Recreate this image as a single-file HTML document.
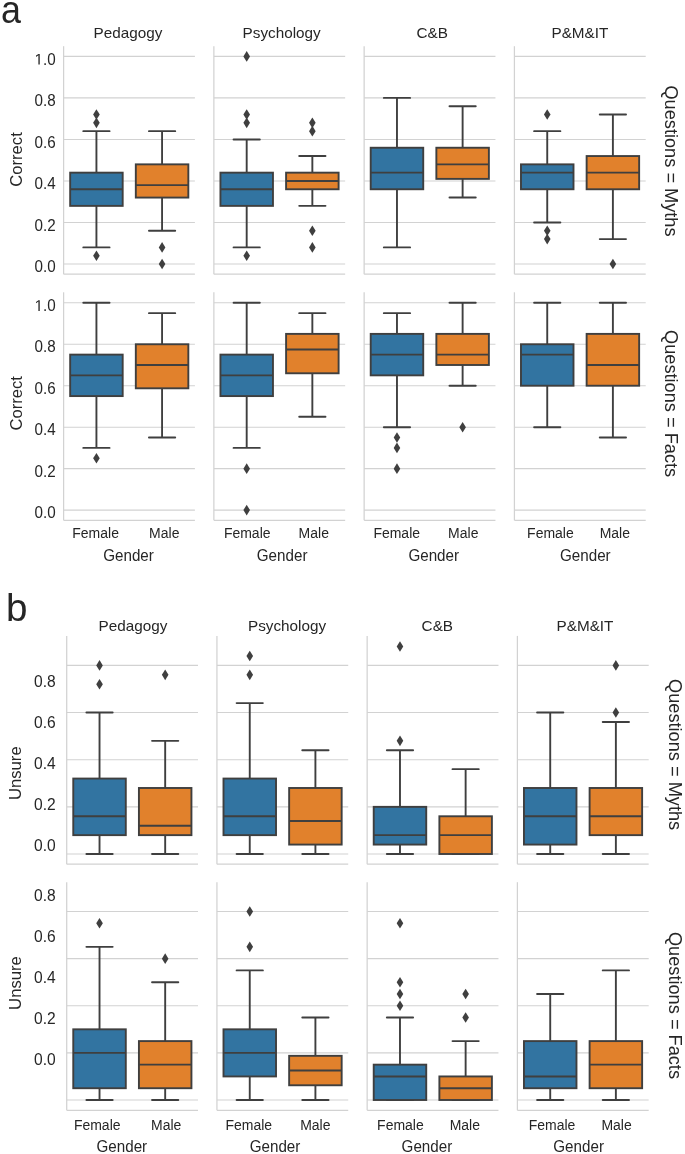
<!DOCTYPE html>
<html><head><meta charset="utf-8"><title>Boxplots</title>
<style>
html,body{margin:0;padding:0;background:#fff;}
body{width:685px;height:1154px;overflow:hidden;}
svg{display:block;will-change:transform;}
text{font-family:"Liberation Sans", sans-serif;fill:#262626;}
</style></head>
<body>
<svg width="685" height="1154" viewBox="0 0 685 1154">
<rect width="685" height="1154" fill="#fff"/>
<line x1="63.60" x2="194.90" y1="264.00" y2="264.00" stroke="#d2d2d2" stroke-width="1.1"/>
<line x1="63.60" x2="194.90" y1="222.48" y2="222.48" stroke="#d2d2d2" stroke-width="1.1"/>
<line x1="63.60" x2="194.90" y1="180.96" y2="180.96" stroke="#d2d2d2" stroke-width="1.1"/>
<line x1="63.60" x2="194.90" y1="139.44" y2="139.44" stroke="#d2d2d2" stroke-width="1.1"/>
<line x1="63.60" x2="194.90" y1="97.92" y2="97.92" stroke="#d2d2d2" stroke-width="1.1"/>
<line x1="63.60" x2="194.90" y1="56.40" y2="56.40" stroke="#d2d2d2" stroke-width="1.1"/>
<line x1="63.60" x2="63.60" y1="46.20" y2="274.20" stroke="#d2d2d2" stroke-width="1.25"/>
<line x1="63.60" x2="194.90" y1="274.20" y2="274.20" stroke="#d2d2d2" stroke-width="1.25"/>
<line x1="96.43" x2="96.43" y1="205.87" y2="247.39" stroke="#3f3f3f" stroke-width="1.9"/>
<line x1="96.43" x2="96.43" y1="172.66" y2="131.14" stroke="#3f3f3f" stroke-width="1.9"/>
<line x1="83.30" x2="109.56" y1="247.39" y2="247.39" stroke="#3f3f3f" stroke-width="1.9" stroke-linecap="round"/>
<line x1="83.30" x2="109.56" y1="131.14" y2="131.14" stroke="#3f3f3f" stroke-width="1.9" stroke-linecap="round"/>
<rect x="70.17" y="172.66" width="52.52" height="33.22" fill="#3274a1" stroke="#3f3f3f" stroke-width="1.9"/>
<line x1="70.17" x2="122.69" y1="189.26" y2="189.26" stroke="#3f3f3f" stroke-width="1.9"/>
<path d="M96.43 250.40L99.73 255.70L96.43 261.00L93.13 255.70Z" fill="#3f3f3f"/>
<path d="M96.43 117.53L99.73 122.83L96.43 128.13L93.13 122.83Z" fill="#3f3f3f"/>
<path d="M96.43 109.23L99.73 114.53L96.43 119.83L93.13 114.53Z" fill="#3f3f3f"/>
<line x1="162.08" x2="162.08" y1="197.57" y2="230.78" stroke="#3f3f3f" stroke-width="1.9"/>
<line x1="162.08" x2="162.08" y1="164.35" y2="131.14" stroke="#3f3f3f" stroke-width="1.9"/>
<line x1="148.95" x2="175.21" y1="230.78" y2="230.78" stroke="#3f3f3f" stroke-width="1.9" stroke-linecap="round"/>
<line x1="148.95" x2="175.21" y1="131.14" y2="131.14" stroke="#3f3f3f" stroke-width="1.9" stroke-linecap="round"/>
<rect x="135.81" y="164.35" width="52.52" height="33.22" fill="#e1812c" stroke="#3f3f3f" stroke-width="1.9"/>
<line x1="135.81" x2="188.34" y1="185.11" y2="185.11" stroke="#3f3f3f" stroke-width="1.9"/>
<path d="M162.08 242.09L165.38 247.39L162.08 252.69L158.78 247.39Z" fill="#3f3f3f"/>
<path d="M162.08 258.70L165.38 264.00L162.08 269.30L158.78 264.00Z" fill="#3f3f3f"/>
<line x1="213.87" x2="345.17" y1="264.00" y2="264.00" stroke="#d2d2d2" stroke-width="1.1"/>
<line x1="213.87" x2="345.17" y1="222.48" y2="222.48" stroke="#d2d2d2" stroke-width="1.1"/>
<line x1="213.87" x2="345.17" y1="180.96" y2="180.96" stroke="#d2d2d2" stroke-width="1.1"/>
<line x1="213.87" x2="345.17" y1="139.44" y2="139.44" stroke="#d2d2d2" stroke-width="1.1"/>
<line x1="213.87" x2="345.17" y1="97.92" y2="97.92" stroke="#d2d2d2" stroke-width="1.1"/>
<line x1="213.87" x2="345.17" y1="56.40" y2="56.40" stroke="#d2d2d2" stroke-width="1.1"/>
<line x1="213.87" x2="213.87" y1="46.20" y2="274.20" stroke="#d2d2d2" stroke-width="1.25"/>
<line x1="213.87" x2="345.17" y1="274.20" y2="274.20" stroke="#d2d2d2" stroke-width="1.25"/>
<line x1="246.69" x2="246.69" y1="205.87" y2="247.39" stroke="#3f3f3f" stroke-width="1.9"/>
<line x1="246.69" x2="246.69" y1="172.66" y2="139.44" stroke="#3f3f3f" stroke-width="1.9"/>
<line x1="233.56" x2="259.82" y1="247.39" y2="247.39" stroke="#3f3f3f" stroke-width="1.9" stroke-linecap="round"/>
<line x1="233.56" x2="259.82" y1="139.44" y2="139.44" stroke="#3f3f3f" stroke-width="1.9" stroke-linecap="round"/>
<rect x="220.44" y="172.66" width="52.52" height="33.22" fill="#3274a1" stroke="#3f3f3f" stroke-width="1.9"/>
<line x1="220.44" x2="272.95" y1="189.26" y2="189.26" stroke="#3f3f3f" stroke-width="1.9"/>
<path d="M246.69 51.10L250.00 56.40L246.69 61.70L243.39 56.40Z" fill="#3f3f3f"/>
<path d="M246.69 109.23L250.00 114.53L246.69 119.83L243.39 114.53Z" fill="#3f3f3f"/>
<path d="M246.69 117.53L250.00 122.83L246.69 128.13L243.39 122.83Z" fill="#3f3f3f"/>
<path d="M246.69 250.40L250.00 255.70L246.69 261.00L243.39 255.70Z" fill="#3f3f3f"/>
<line x1="312.35" x2="312.35" y1="189.26" y2="205.87" stroke="#3f3f3f" stroke-width="1.9"/>
<line x1="312.35" x2="312.35" y1="172.66" y2="156.05" stroke="#3f3f3f" stroke-width="1.9"/>
<line x1="299.22" x2="325.48" y1="205.87" y2="205.87" stroke="#3f3f3f" stroke-width="1.9" stroke-linecap="round"/>
<line x1="299.22" x2="325.48" y1="156.05" y2="156.05" stroke="#3f3f3f" stroke-width="1.9" stroke-linecap="round"/>
<rect x="286.09" y="172.66" width="52.52" height="16.61" fill="#e1812c" stroke="#3f3f3f" stroke-width="1.9"/>
<line x1="286.09" x2="338.61" y1="180.96" y2="180.96" stroke="#3f3f3f" stroke-width="1.9"/>
<path d="M312.35 117.53L315.65 122.83L312.35 128.13L309.05 122.83Z" fill="#3f3f3f"/>
<path d="M312.35 125.84L315.65 131.14L312.35 136.44L309.05 131.14Z" fill="#3f3f3f"/>
<path d="M312.35 225.48L315.65 230.78L312.35 236.08L309.05 230.78Z" fill="#3f3f3f"/>
<path d="M312.35 242.09L315.65 247.39L312.35 252.69L309.05 247.39Z" fill="#3f3f3f"/>
<line x1="364.14" x2="495.44" y1="264.00" y2="264.00" stroke="#d2d2d2" stroke-width="1.1"/>
<line x1="364.14" x2="495.44" y1="222.48" y2="222.48" stroke="#d2d2d2" stroke-width="1.1"/>
<line x1="364.14" x2="495.44" y1="180.96" y2="180.96" stroke="#d2d2d2" stroke-width="1.1"/>
<line x1="364.14" x2="495.44" y1="139.44" y2="139.44" stroke="#d2d2d2" stroke-width="1.1"/>
<line x1="364.14" x2="495.44" y1="97.92" y2="97.92" stroke="#d2d2d2" stroke-width="1.1"/>
<line x1="364.14" x2="495.44" y1="56.40" y2="56.40" stroke="#d2d2d2" stroke-width="1.1"/>
<line x1="364.14" x2="364.14" y1="46.20" y2="274.20" stroke="#d2d2d2" stroke-width="1.25"/>
<line x1="364.14" x2="495.44" y1="274.20" y2="274.20" stroke="#d2d2d2" stroke-width="1.25"/>
<line x1="396.97" x2="396.97" y1="189.26" y2="247.39" stroke="#3f3f3f" stroke-width="1.9"/>
<line x1="396.97" x2="396.97" y1="147.74" y2="97.92" stroke="#3f3f3f" stroke-width="1.9"/>
<line x1="383.84" x2="410.10" y1="247.39" y2="247.39" stroke="#3f3f3f" stroke-width="1.9" stroke-linecap="round"/>
<line x1="383.84" x2="410.10" y1="97.92" y2="97.92" stroke="#3f3f3f" stroke-width="1.9" stroke-linecap="round"/>
<rect x="370.71" y="147.74" width="52.52" height="41.52" fill="#3274a1" stroke="#3f3f3f" stroke-width="1.9"/>
<line x1="370.71" x2="423.23" y1="172.66" y2="172.66" stroke="#3f3f3f" stroke-width="1.9"/>
<line x1="462.62" x2="462.62" y1="178.88" y2="197.57" stroke="#3f3f3f" stroke-width="1.9"/>
<line x1="462.62" x2="462.62" y1="147.74" y2="106.22" stroke="#3f3f3f" stroke-width="1.9"/>
<line x1="449.49" x2="475.75" y1="197.57" y2="197.57" stroke="#3f3f3f" stroke-width="1.9" stroke-linecap="round"/>
<line x1="449.49" x2="475.75" y1="106.22" y2="106.22" stroke="#3f3f3f" stroke-width="1.9" stroke-linecap="round"/>
<rect x="436.36" y="147.74" width="52.52" height="31.14" fill="#e1812c" stroke="#3f3f3f" stroke-width="1.9"/>
<line x1="436.36" x2="488.88" y1="164.35" y2="164.35" stroke="#3f3f3f" stroke-width="1.9"/>
<line x1="514.41" x2="645.71" y1="264.00" y2="264.00" stroke="#d2d2d2" stroke-width="1.1"/>
<line x1="514.41" x2="645.71" y1="222.48" y2="222.48" stroke="#d2d2d2" stroke-width="1.1"/>
<line x1="514.41" x2="645.71" y1="180.96" y2="180.96" stroke="#d2d2d2" stroke-width="1.1"/>
<line x1="514.41" x2="645.71" y1="139.44" y2="139.44" stroke="#d2d2d2" stroke-width="1.1"/>
<line x1="514.41" x2="645.71" y1="97.92" y2="97.92" stroke="#d2d2d2" stroke-width="1.1"/>
<line x1="514.41" x2="645.71" y1="56.40" y2="56.40" stroke="#d2d2d2" stroke-width="1.1"/>
<line x1="514.41" x2="514.41" y1="46.20" y2="274.20" stroke="#d2d2d2" stroke-width="1.25"/>
<line x1="514.41" x2="645.71" y1="274.20" y2="274.20" stroke="#d2d2d2" stroke-width="1.25"/>
<line x1="547.24" x2="547.24" y1="189.26" y2="222.48" stroke="#3f3f3f" stroke-width="1.9"/>
<line x1="547.24" x2="547.24" y1="164.35" y2="131.14" stroke="#3f3f3f" stroke-width="1.9"/>
<line x1="534.11" x2="560.37" y1="222.48" y2="222.48" stroke="#3f3f3f" stroke-width="1.9" stroke-linecap="round"/>
<line x1="534.11" x2="560.37" y1="131.14" y2="131.14" stroke="#3f3f3f" stroke-width="1.9" stroke-linecap="round"/>
<rect x="520.98" y="164.35" width="52.52" height="24.91" fill="#3274a1" stroke="#3f3f3f" stroke-width="1.9"/>
<line x1="520.98" x2="573.50" y1="172.66" y2="172.66" stroke="#3f3f3f" stroke-width="1.9"/>
<path d="M547.24 109.23L550.54 114.53L547.24 119.83L543.94 114.53Z" fill="#3f3f3f"/>
<path d="M547.24 225.48L550.54 230.78L547.24 236.08L543.94 230.78Z" fill="#3f3f3f"/>
<path d="M547.24 233.79L550.54 239.09L547.24 244.39L543.94 239.09Z" fill="#3f3f3f"/>
<line x1="612.89" x2="612.89" y1="189.26" y2="239.09" stroke="#3f3f3f" stroke-width="1.9"/>
<line x1="612.89" x2="612.89" y1="156.05" y2="114.53" stroke="#3f3f3f" stroke-width="1.9"/>
<line x1="599.76" x2="626.02" y1="239.09" y2="239.09" stroke="#3f3f3f" stroke-width="1.9" stroke-linecap="round"/>
<line x1="599.76" x2="626.02" y1="114.53" y2="114.53" stroke="#3f3f3f" stroke-width="1.9" stroke-linecap="round"/>
<rect x="586.63" y="156.05" width="52.52" height="33.22" fill="#e1812c" stroke="#3f3f3f" stroke-width="1.9"/>
<line x1="586.63" x2="639.15" y1="172.66" y2="172.66" stroke="#3f3f3f" stroke-width="1.9"/>
<path d="M612.89 258.70L616.19 264.00L612.89 269.30L609.59 264.00Z" fill="#3f3f3f"/>
<line x1="63.60" x2="194.90" y1="510.10" y2="510.10" stroke="#d2d2d2" stroke-width="1.1"/>
<line x1="63.60" x2="194.90" y1="468.64" y2="468.64" stroke="#d2d2d2" stroke-width="1.1"/>
<line x1="63.60" x2="194.90" y1="427.18" y2="427.18" stroke="#d2d2d2" stroke-width="1.1"/>
<line x1="63.60" x2="194.90" y1="385.72" y2="385.72" stroke="#d2d2d2" stroke-width="1.1"/>
<line x1="63.60" x2="194.90" y1="344.26" y2="344.26" stroke="#d2d2d2" stroke-width="1.1"/>
<line x1="63.60" x2="194.90" y1="302.80" y2="302.80" stroke="#d2d2d2" stroke-width="1.1"/>
<line x1="63.60" x2="63.60" y1="292.30" y2="520.30" stroke="#d2d2d2" stroke-width="1.25"/>
<line x1="63.60" x2="194.90" y1="520.30" y2="520.30" stroke="#d2d2d2" stroke-width="1.25"/>
<line x1="96.43" x2="96.43" y1="396.09" y2="447.91" stroke="#3f3f3f" stroke-width="1.9"/>
<line x1="96.43" x2="96.43" y1="354.62" y2="302.80" stroke="#3f3f3f" stroke-width="1.9"/>
<line x1="83.30" x2="109.56" y1="447.91" y2="447.91" stroke="#3f3f3f" stroke-width="1.9" stroke-linecap="round"/>
<line x1="83.30" x2="109.56" y1="302.80" y2="302.80" stroke="#3f3f3f" stroke-width="1.9" stroke-linecap="round"/>
<rect x="70.17" y="354.62" width="52.52" height="41.46" fill="#3274a1" stroke="#3f3f3f" stroke-width="1.9"/>
<line x1="70.17" x2="122.69" y1="375.36" y2="375.36" stroke="#3f3f3f" stroke-width="1.9"/>
<path d="M96.43 452.98L99.73 458.28L96.43 463.58L93.13 458.28Z" fill="#3f3f3f"/>
<line x1="162.08" x2="162.08" y1="388.31" y2="437.55" stroke="#3f3f3f" stroke-width="1.9"/>
<line x1="162.08" x2="162.08" y1="344.26" y2="313.17" stroke="#3f3f3f" stroke-width="1.9"/>
<line x1="148.95" x2="175.21" y1="437.55" y2="437.55" stroke="#3f3f3f" stroke-width="1.9" stroke-linecap="round"/>
<line x1="148.95" x2="175.21" y1="313.17" y2="313.17" stroke="#3f3f3f" stroke-width="1.9" stroke-linecap="round"/>
<rect x="135.81" y="344.26" width="52.52" height="44.05" fill="#e1812c" stroke="#3f3f3f" stroke-width="1.9"/>
<line x1="135.81" x2="188.34" y1="364.99" y2="364.99" stroke="#3f3f3f" stroke-width="1.9"/>
<line x1="213.87" x2="345.17" y1="510.10" y2="510.10" stroke="#d2d2d2" stroke-width="1.1"/>
<line x1="213.87" x2="345.17" y1="468.64" y2="468.64" stroke="#d2d2d2" stroke-width="1.1"/>
<line x1="213.87" x2="345.17" y1="427.18" y2="427.18" stroke="#d2d2d2" stroke-width="1.1"/>
<line x1="213.87" x2="345.17" y1="385.72" y2="385.72" stroke="#d2d2d2" stroke-width="1.1"/>
<line x1="213.87" x2="345.17" y1="344.26" y2="344.26" stroke="#d2d2d2" stroke-width="1.1"/>
<line x1="213.87" x2="345.17" y1="302.80" y2="302.80" stroke="#d2d2d2" stroke-width="1.1"/>
<line x1="213.87" x2="213.87" y1="292.30" y2="520.30" stroke="#d2d2d2" stroke-width="1.25"/>
<line x1="213.87" x2="345.17" y1="520.30" y2="520.30" stroke="#d2d2d2" stroke-width="1.25"/>
<line x1="246.69" x2="246.69" y1="396.09" y2="447.91" stroke="#3f3f3f" stroke-width="1.9"/>
<line x1="246.69" x2="246.69" y1="354.62" y2="302.80" stroke="#3f3f3f" stroke-width="1.9"/>
<line x1="233.56" x2="259.82" y1="447.91" y2="447.91" stroke="#3f3f3f" stroke-width="1.9" stroke-linecap="round"/>
<line x1="233.56" x2="259.82" y1="302.80" y2="302.80" stroke="#3f3f3f" stroke-width="1.9" stroke-linecap="round"/>
<rect x="220.44" y="354.62" width="52.52" height="41.46" fill="#3274a1" stroke="#3f3f3f" stroke-width="1.9"/>
<line x1="220.44" x2="272.95" y1="375.36" y2="375.36" stroke="#3f3f3f" stroke-width="1.9"/>
<path d="M246.69 463.34L250.00 468.64L246.69 473.94L243.39 468.64Z" fill="#3f3f3f"/>
<path d="M246.69 504.80L250.00 510.10L246.69 515.40L243.39 510.10Z" fill="#3f3f3f"/>
<line x1="312.35" x2="312.35" y1="373.28" y2="416.81" stroke="#3f3f3f" stroke-width="1.9"/>
<line x1="312.35" x2="312.35" y1="333.89" y2="313.17" stroke="#3f3f3f" stroke-width="1.9"/>
<line x1="299.22" x2="325.48" y1="416.81" y2="416.81" stroke="#3f3f3f" stroke-width="1.9" stroke-linecap="round"/>
<line x1="299.22" x2="325.48" y1="313.17" y2="313.17" stroke="#3f3f3f" stroke-width="1.9" stroke-linecap="round"/>
<rect x="286.09" y="333.89" width="52.52" height="39.39" fill="#e1812c" stroke="#3f3f3f" stroke-width="1.9"/>
<line x1="286.09" x2="338.61" y1="349.44" y2="349.44" stroke="#3f3f3f" stroke-width="1.9"/>
<line x1="364.14" x2="495.44" y1="510.10" y2="510.10" stroke="#d2d2d2" stroke-width="1.1"/>
<line x1="364.14" x2="495.44" y1="468.64" y2="468.64" stroke="#d2d2d2" stroke-width="1.1"/>
<line x1="364.14" x2="495.44" y1="427.18" y2="427.18" stroke="#d2d2d2" stroke-width="1.1"/>
<line x1="364.14" x2="495.44" y1="385.72" y2="385.72" stroke="#d2d2d2" stroke-width="1.1"/>
<line x1="364.14" x2="495.44" y1="344.26" y2="344.26" stroke="#d2d2d2" stroke-width="1.1"/>
<line x1="364.14" x2="495.44" y1="302.80" y2="302.80" stroke="#d2d2d2" stroke-width="1.1"/>
<line x1="364.14" x2="364.14" y1="292.30" y2="520.30" stroke="#d2d2d2" stroke-width="1.25"/>
<line x1="364.14" x2="495.44" y1="520.30" y2="520.30" stroke="#d2d2d2" stroke-width="1.25"/>
<line x1="396.97" x2="396.97" y1="375.36" y2="427.18" stroke="#3f3f3f" stroke-width="1.9"/>
<line x1="396.97" x2="396.97" y1="333.89" y2="313.17" stroke="#3f3f3f" stroke-width="1.9"/>
<line x1="383.84" x2="410.10" y1="427.18" y2="427.18" stroke="#3f3f3f" stroke-width="1.9" stroke-linecap="round"/>
<line x1="383.84" x2="410.10" y1="313.17" y2="313.17" stroke="#3f3f3f" stroke-width="1.9" stroke-linecap="round"/>
<rect x="370.71" y="333.89" width="52.52" height="41.46" fill="#3274a1" stroke="#3f3f3f" stroke-width="1.9"/>
<line x1="370.71" x2="423.23" y1="354.62" y2="354.62" stroke="#3f3f3f" stroke-width="1.9"/>
<path d="M396.97 432.25L400.27 437.55L396.97 442.85L393.67 437.55Z" fill="#3f3f3f"/>
<path d="M396.97 442.61L400.27 447.91L396.97 453.21L393.67 447.91Z" fill="#3f3f3f"/>
<path d="M396.97 463.34L400.27 468.64L396.97 473.94L393.67 468.64Z" fill="#3f3f3f"/>
<line x1="462.62" x2="462.62" y1="364.99" y2="385.72" stroke="#3f3f3f" stroke-width="1.9"/>
<line x1="462.62" x2="462.62" y1="333.89" y2="302.80" stroke="#3f3f3f" stroke-width="1.9"/>
<line x1="449.49" x2="475.75" y1="385.72" y2="385.72" stroke="#3f3f3f" stroke-width="1.9" stroke-linecap="round"/>
<line x1="449.49" x2="475.75" y1="302.80" y2="302.80" stroke="#3f3f3f" stroke-width="1.9" stroke-linecap="round"/>
<rect x="436.36" y="333.89" width="52.52" height="31.10" fill="#e1812c" stroke="#3f3f3f" stroke-width="1.9"/>
<line x1="436.36" x2="488.88" y1="354.62" y2="354.62" stroke="#3f3f3f" stroke-width="1.9"/>
<path d="M462.62 421.88L465.92 427.18L462.62 432.48L459.32 427.18Z" fill="#3f3f3f"/>
<line x1="514.41" x2="645.71" y1="510.10" y2="510.10" stroke="#d2d2d2" stroke-width="1.1"/>
<line x1="514.41" x2="645.71" y1="468.64" y2="468.64" stroke="#d2d2d2" stroke-width="1.1"/>
<line x1="514.41" x2="645.71" y1="427.18" y2="427.18" stroke="#d2d2d2" stroke-width="1.1"/>
<line x1="514.41" x2="645.71" y1="385.72" y2="385.72" stroke="#d2d2d2" stroke-width="1.1"/>
<line x1="514.41" x2="645.71" y1="344.26" y2="344.26" stroke="#d2d2d2" stroke-width="1.1"/>
<line x1="514.41" x2="645.71" y1="302.80" y2="302.80" stroke="#d2d2d2" stroke-width="1.1"/>
<line x1="514.41" x2="514.41" y1="292.30" y2="520.30" stroke="#d2d2d2" stroke-width="1.25"/>
<line x1="514.41" x2="645.71" y1="520.30" y2="520.30" stroke="#d2d2d2" stroke-width="1.25"/>
<line x1="547.24" x2="547.24" y1="385.72" y2="427.18" stroke="#3f3f3f" stroke-width="1.9"/>
<line x1="547.24" x2="547.24" y1="344.26" y2="302.80" stroke="#3f3f3f" stroke-width="1.9"/>
<line x1="534.11" x2="560.37" y1="427.18" y2="427.18" stroke="#3f3f3f" stroke-width="1.9" stroke-linecap="round"/>
<line x1="534.11" x2="560.37" y1="302.80" y2="302.80" stroke="#3f3f3f" stroke-width="1.9" stroke-linecap="round"/>
<rect x="520.98" y="344.26" width="52.52" height="41.46" fill="#3274a1" stroke="#3f3f3f" stroke-width="1.9"/>
<line x1="520.98" x2="573.50" y1="354.62" y2="354.62" stroke="#3f3f3f" stroke-width="1.9"/>
<line x1="612.89" x2="612.89" y1="385.72" y2="437.55" stroke="#3f3f3f" stroke-width="1.9"/>
<line x1="612.89" x2="612.89" y1="333.89" y2="302.80" stroke="#3f3f3f" stroke-width="1.9"/>
<line x1="599.76" x2="626.02" y1="437.55" y2="437.55" stroke="#3f3f3f" stroke-width="1.9" stroke-linecap="round"/>
<line x1="599.76" x2="626.02" y1="302.80" y2="302.80" stroke="#3f3f3f" stroke-width="1.9" stroke-linecap="round"/>
<rect x="586.63" y="333.89" width="52.52" height="51.83" fill="#e1812c" stroke="#3f3f3f" stroke-width="1.9"/>
<line x1="586.63" x2="639.15" y1="364.99" y2="364.99" stroke="#3f3f3f" stroke-width="1.9"/>
<line x1="66.70" x2="198.00" y1="854.00" y2="854.00" stroke="#d2d2d2" stroke-width="1.1"/>
<line x1="66.70" x2="198.00" y1="806.85" y2="806.85" stroke="#d2d2d2" stroke-width="1.1"/>
<line x1="66.70" x2="198.00" y1="759.70" y2="759.70" stroke="#d2d2d2" stroke-width="1.1"/>
<line x1="66.70" x2="198.00" y1="712.55" y2="712.55" stroke="#d2d2d2" stroke-width="1.1"/>
<line x1="66.70" x2="198.00" y1="665.40" y2="665.40" stroke="#d2d2d2" stroke-width="1.1"/>
<line x1="66.70" x2="66.70" y1="635.90" y2="864.20" stroke="#d2d2d2" stroke-width="1.25"/>
<line x1="66.70" x2="198.00" y1="864.20" y2="864.20" stroke="#d2d2d2" stroke-width="1.25"/>
<line x1="99.53" x2="99.53" y1="835.14" y2="854.00" stroke="#3f3f3f" stroke-width="1.9"/>
<line x1="99.53" x2="99.53" y1="778.56" y2="712.55" stroke="#3f3f3f" stroke-width="1.9"/>
<line x1="86.40" x2="112.66" y1="854.00" y2="854.00" stroke="#3f3f3f" stroke-width="1.9" stroke-linecap="round"/>
<line x1="86.40" x2="112.66" y1="712.55" y2="712.55" stroke="#3f3f3f" stroke-width="1.9" stroke-linecap="round"/>
<rect x="73.27" y="778.56" width="52.52" height="56.58" fill="#3274a1" stroke="#3f3f3f" stroke-width="1.9"/>
<line x1="73.27" x2="125.79" y1="816.28" y2="816.28" stroke="#3f3f3f" stroke-width="1.9"/>
<path d="M99.53 660.10L102.83 665.40L99.53 670.70L96.23 665.40Z" fill="#3f3f3f"/>
<path d="M99.53 678.96L102.83 684.26L99.53 689.56L96.23 684.26Z" fill="#3f3f3f"/>
<line x1="165.18" x2="165.18" y1="835.14" y2="854.00" stroke="#3f3f3f" stroke-width="1.9"/>
<line x1="165.18" x2="165.18" y1="787.99" y2="740.84" stroke="#3f3f3f" stroke-width="1.9"/>
<line x1="152.05" x2="178.31" y1="854.00" y2="854.00" stroke="#3f3f3f" stroke-width="1.9" stroke-linecap="round"/>
<line x1="152.05" x2="178.31" y1="740.84" y2="740.84" stroke="#3f3f3f" stroke-width="1.9" stroke-linecap="round"/>
<rect x="138.92" y="787.99" width="52.52" height="47.15" fill="#e1812c" stroke="#3f3f3f" stroke-width="1.9"/>
<line x1="138.92" x2="191.44" y1="825.71" y2="825.71" stroke="#3f3f3f" stroke-width="1.9"/>
<path d="M165.18 669.53L168.48 674.83L165.18 680.13L161.88 674.83Z" fill="#3f3f3f"/>
<line x1="216.93" x2="348.23" y1="854.00" y2="854.00" stroke="#d2d2d2" stroke-width="1.1"/>
<line x1="216.93" x2="348.23" y1="806.85" y2="806.85" stroke="#d2d2d2" stroke-width="1.1"/>
<line x1="216.93" x2="348.23" y1="759.70" y2="759.70" stroke="#d2d2d2" stroke-width="1.1"/>
<line x1="216.93" x2="348.23" y1="712.55" y2="712.55" stroke="#d2d2d2" stroke-width="1.1"/>
<line x1="216.93" x2="348.23" y1="665.40" y2="665.40" stroke="#d2d2d2" stroke-width="1.1"/>
<line x1="216.93" x2="216.93" y1="635.90" y2="864.20" stroke="#d2d2d2" stroke-width="1.25"/>
<line x1="216.93" x2="348.23" y1="864.20" y2="864.20" stroke="#d2d2d2" stroke-width="1.25"/>
<line x1="249.75" x2="249.75" y1="835.14" y2="854.00" stroke="#3f3f3f" stroke-width="1.9"/>
<line x1="249.75" x2="249.75" y1="778.56" y2="703.12" stroke="#3f3f3f" stroke-width="1.9"/>
<line x1="236.62" x2="262.88" y1="854.00" y2="854.00" stroke="#3f3f3f" stroke-width="1.9" stroke-linecap="round"/>
<line x1="236.62" x2="262.88" y1="703.12" y2="703.12" stroke="#3f3f3f" stroke-width="1.9" stroke-linecap="round"/>
<rect x="223.50" y="778.56" width="52.52" height="56.58" fill="#3274a1" stroke="#3f3f3f" stroke-width="1.9"/>
<line x1="223.50" x2="276.01" y1="816.28" y2="816.28" stroke="#3f3f3f" stroke-width="1.9"/>
<path d="M249.75 650.67L253.06 655.97L249.75 661.27L246.45 655.97Z" fill="#3f3f3f"/>
<path d="M249.75 669.53L253.06 674.83L249.75 680.13L246.45 674.83Z" fill="#3f3f3f"/>
<line x1="315.41" x2="315.41" y1="844.57" y2="854.00" stroke="#3f3f3f" stroke-width="1.9"/>
<line x1="315.41" x2="315.41" y1="787.99" y2="750.27" stroke="#3f3f3f" stroke-width="1.9"/>
<line x1="302.28" x2="328.54" y1="854.00" y2="854.00" stroke="#3f3f3f" stroke-width="1.9" stroke-linecap="round"/>
<line x1="302.28" x2="328.54" y1="750.27" y2="750.27" stroke="#3f3f3f" stroke-width="1.9" stroke-linecap="round"/>
<rect x="289.15" y="787.99" width="52.52" height="56.58" fill="#e1812c" stroke="#3f3f3f" stroke-width="1.9"/>
<line x1="289.15" x2="341.67" y1="821.00" y2="821.00" stroke="#3f3f3f" stroke-width="1.9"/>
<line x1="367.16" x2="498.46" y1="854.00" y2="854.00" stroke="#d2d2d2" stroke-width="1.1"/>
<line x1="367.16" x2="498.46" y1="806.85" y2="806.85" stroke="#d2d2d2" stroke-width="1.1"/>
<line x1="367.16" x2="498.46" y1="759.70" y2="759.70" stroke="#d2d2d2" stroke-width="1.1"/>
<line x1="367.16" x2="498.46" y1="712.55" y2="712.55" stroke="#d2d2d2" stroke-width="1.1"/>
<line x1="367.16" x2="498.46" y1="665.40" y2="665.40" stroke="#d2d2d2" stroke-width="1.1"/>
<line x1="367.16" x2="367.16" y1="635.90" y2="864.20" stroke="#d2d2d2" stroke-width="1.25"/>
<line x1="367.16" x2="498.46" y1="864.20" y2="864.20" stroke="#d2d2d2" stroke-width="1.25"/>
<line x1="399.98" x2="399.98" y1="844.57" y2="854.00" stroke="#3f3f3f" stroke-width="1.9"/>
<line x1="399.98" x2="399.98" y1="806.85" y2="750.27" stroke="#3f3f3f" stroke-width="1.9"/>
<line x1="386.85" x2="413.11" y1="854.00" y2="854.00" stroke="#3f3f3f" stroke-width="1.9" stroke-linecap="round"/>
<line x1="386.85" x2="413.11" y1="750.27" y2="750.27" stroke="#3f3f3f" stroke-width="1.9" stroke-linecap="round"/>
<rect x="373.72" y="806.85" width="52.52" height="37.72" fill="#3274a1" stroke="#3f3f3f" stroke-width="1.9"/>
<line x1="373.72" x2="426.24" y1="835.14" y2="835.14" stroke="#3f3f3f" stroke-width="1.9"/>
<path d="M399.98 641.24L403.28 646.54L399.98 651.84L396.68 646.54Z" fill="#3f3f3f"/>
<path d="M399.98 735.54L403.28 740.84L399.98 746.14L396.68 740.84Z" fill="#3f3f3f"/>
<line x1="465.63" x2="465.63" y1="854.00" y2="854.00" stroke="#3f3f3f" stroke-width="1.9"/>
<line x1="465.63" x2="465.63" y1="816.28" y2="769.13" stroke="#3f3f3f" stroke-width="1.9"/>
<line x1="452.50" x2="478.76" y1="854.00" y2="854.00" stroke="#3f3f3f" stroke-width="1.9" stroke-linecap="round"/>
<line x1="452.50" x2="478.76" y1="769.13" y2="769.13" stroke="#3f3f3f" stroke-width="1.9" stroke-linecap="round"/>
<rect x="439.38" y="816.28" width="52.52" height="37.72" fill="#e1812c" stroke="#3f3f3f" stroke-width="1.9"/>
<line x1="439.38" x2="491.89" y1="835.14" y2="835.14" stroke="#3f3f3f" stroke-width="1.9"/>
<line x1="517.39" x2="648.69" y1="854.00" y2="854.00" stroke="#d2d2d2" stroke-width="1.1"/>
<line x1="517.39" x2="648.69" y1="806.85" y2="806.85" stroke="#d2d2d2" stroke-width="1.1"/>
<line x1="517.39" x2="648.69" y1="759.70" y2="759.70" stroke="#d2d2d2" stroke-width="1.1"/>
<line x1="517.39" x2="648.69" y1="712.55" y2="712.55" stroke="#d2d2d2" stroke-width="1.1"/>
<line x1="517.39" x2="648.69" y1="665.40" y2="665.40" stroke="#d2d2d2" stroke-width="1.1"/>
<line x1="517.39" x2="517.39" y1="635.90" y2="864.20" stroke="#d2d2d2" stroke-width="1.25"/>
<line x1="517.39" x2="648.69" y1="864.20" y2="864.20" stroke="#d2d2d2" stroke-width="1.25"/>
<line x1="550.22" x2="550.22" y1="844.57" y2="854.00" stroke="#3f3f3f" stroke-width="1.9"/>
<line x1="550.22" x2="550.22" y1="787.99" y2="712.55" stroke="#3f3f3f" stroke-width="1.9"/>
<line x1="537.09" x2="563.35" y1="854.00" y2="854.00" stroke="#3f3f3f" stroke-width="1.9" stroke-linecap="round"/>
<line x1="537.09" x2="563.35" y1="712.55" y2="712.55" stroke="#3f3f3f" stroke-width="1.9" stroke-linecap="round"/>
<rect x="523.96" y="787.99" width="52.52" height="56.58" fill="#3274a1" stroke="#3f3f3f" stroke-width="1.9"/>
<line x1="523.96" x2="576.48" y1="816.28" y2="816.28" stroke="#3f3f3f" stroke-width="1.9"/>
<line x1="615.87" x2="615.87" y1="835.14" y2="854.00" stroke="#3f3f3f" stroke-width="1.9"/>
<line x1="615.87" x2="615.87" y1="787.99" y2="721.98" stroke="#3f3f3f" stroke-width="1.9"/>
<line x1="602.74" x2="629.00" y1="854.00" y2="854.00" stroke="#3f3f3f" stroke-width="1.9" stroke-linecap="round"/>
<line x1="602.74" x2="629.00" y1="721.98" y2="721.98" stroke="#3f3f3f" stroke-width="1.9" stroke-linecap="round"/>
<rect x="589.61" y="787.99" width="52.52" height="47.15" fill="#e1812c" stroke="#3f3f3f" stroke-width="1.9"/>
<line x1="589.61" x2="642.12" y1="816.28" y2="816.28" stroke="#3f3f3f" stroke-width="1.9"/>
<path d="M615.87 660.10L619.16 665.40L615.87 670.70L612.57 665.40Z" fill="#3f3f3f"/>
<path d="M615.87 707.25L619.16 712.55L615.87 717.85L612.57 712.55Z" fill="#3f3f3f"/>
<line x1="66.70" x2="198.00" y1="1100.00" y2="1100.00" stroke="#d2d2d2" stroke-width="1.1"/>
<line x1="66.70" x2="198.00" y1="1052.88" y2="1052.88" stroke="#d2d2d2" stroke-width="1.1"/>
<line x1="66.70" x2="198.00" y1="1005.76" y2="1005.76" stroke="#d2d2d2" stroke-width="1.1"/>
<line x1="66.70" x2="198.00" y1="958.64" y2="958.64" stroke="#d2d2d2" stroke-width="1.1"/>
<line x1="66.70" x2="198.00" y1="911.52" y2="911.52" stroke="#d2d2d2" stroke-width="1.1"/>
<line x1="66.70" x2="66.70" y1="882.20" y2="1110.30" stroke="#d2d2d2" stroke-width="1.25"/>
<line x1="66.70" x2="198.00" y1="1110.30" y2="1110.30" stroke="#d2d2d2" stroke-width="1.25"/>
<line x1="99.53" x2="99.53" y1="1088.22" y2="1100.00" stroke="#3f3f3f" stroke-width="1.9"/>
<line x1="99.53" x2="99.53" y1="1029.32" y2="946.86" stroke="#3f3f3f" stroke-width="1.9"/>
<line x1="86.40" x2="112.66" y1="1100.00" y2="1100.00" stroke="#3f3f3f" stroke-width="1.9" stroke-linecap="round"/>
<line x1="86.40" x2="112.66" y1="946.86" y2="946.86" stroke="#3f3f3f" stroke-width="1.9" stroke-linecap="round"/>
<rect x="73.27" y="1029.32" width="52.52" height="58.90" fill="#3274a1" stroke="#3f3f3f" stroke-width="1.9"/>
<line x1="73.27" x2="125.79" y1="1052.88" y2="1052.88" stroke="#3f3f3f" stroke-width="1.9"/>
<path d="M99.53 918.00L102.83 923.30L99.53 928.60L96.23 923.30Z" fill="#3f3f3f"/>
<line x1="165.18" x2="165.18" y1="1088.22" y2="1100.00" stroke="#3f3f3f" stroke-width="1.9"/>
<line x1="165.18" x2="165.18" y1="1041.10" y2="982.20" stroke="#3f3f3f" stroke-width="1.9"/>
<line x1="152.05" x2="178.31" y1="1100.00" y2="1100.00" stroke="#3f3f3f" stroke-width="1.9" stroke-linecap="round"/>
<line x1="152.05" x2="178.31" y1="982.20" y2="982.20" stroke="#3f3f3f" stroke-width="1.9" stroke-linecap="round"/>
<rect x="138.92" y="1041.10" width="52.52" height="47.12" fill="#e1812c" stroke="#3f3f3f" stroke-width="1.9"/>
<line x1="138.92" x2="191.44" y1="1064.66" y2="1064.66" stroke="#3f3f3f" stroke-width="1.9"/>
<path d="M165.18 953.34L168.48 958.64L165.18 963.94L161.88 958.64Z" fill="#3f3f3f"/>
<line x1="216.93" x2="348.23" y1="1100.00" y2="1100.00" stroke="#d2d2d2" stroke-width="1.1"/>
<line x1="216.93" x2="348.23" y1="1052.88" y2="1052.88" stroke="#d2d2d2" stroke-width="1.1"/>
<line x1="216.93" x2="348.23" y1="1005.76" y2="1005.76" stroke="#d2d2d2" stroke-width="1.1"/>
<line x1="216.93" x2="348.23" y1="958.64" y2="958.64" stroke="#d2d2d2" stroke-width="1.1"/>
<line x1="216.93" x2="348.23" y1="911.52" y2="911.52" stroke="#d2d2d2" stroke-width="1.1"/>
<line x1="216.93" x2="216.93" y1="882.20" y2="1110.30" stroke="#d2d2d2" stroke-width="1.25"/>
<line x1="216.93" x2="348.23" y1="1110.30" y2="1110.30" stroke="#d2d2d2" stroke-width="1.25"/>
<line x1="249.75" x2="249.75" y1="1076.44" y2="1100.00" stroke="#3f3f3f" stroke-width="1.9"/>
<line x1="249.75" x2="249.75" y1="1029.32" y2="970.42" stroke="#3f3f3f" stroke-width="1.9"/>
<line x1="236.62" x2="262.88" y1="1100.00" y2="1100.00" stroke="#3f3f3f" stroke-width="1.9" stroke-linecap="round"/>
<line x1="236.62" x2="262.88" y1="970.42" y2="970.42" stroke="#3f3f3f" stroke-width="1.9" stroke-linecap="round"/>
<rect x="223.50" y="1029.32" width="52.52" height="47.12" fill="#3274a1" stroke="#3f3f3f" stroke-width="1.9"/>
<line x1="223.50" x2="276.01" y1="1052.88" y2="1052.88" stroke="#3f3f3f" stroke-width="1.9"/>
<path d="M249.75 906.22L253.06 911.52L249.75 916.82L246.45 911.52Z" fill="#3f3f3f"/>
<path d="M249.75 941.56L253.06 946.86L249.75 952.16L246.45 946.86Z" fill="#3f3f3f"/>
<line x1="315.41" x2="315.41" y1="1085.28" y2="1100.00" stroke="#3f3f3f" stroke-width="1.9"/>
<line x1="315.41" x2="315.41" y1="1055.83" y2="1017.54" stroke="#3f3f3f" stroke-width="1.9"/>
<line x1="302.28" x2="328.54" y1="1100.00" y2="1100.00" stroke="#3f3f3f" stroke-width="1.9" stroke-linecap="round"/>
<line x1="302.28" x2="328.54" y1="1017.54" y2="1017.54" stroke="#3f3f3f" stroke-width="1.9" stroke-linecap="round"/>
<rect x="289.15" y="1055.83" width="52.52" height="29.45" fill="#e1812c" stroke="#3f3f3f" stroke-width="1.9"/>
<line x1="289.15" x2="341.67" y1="1070.55" y2="1070.55" stroke="#3f3f3f" stroke-width="1.9"/>
<line x1="367.16" x2="498.46" y1="1100.00" y2="1100.00" stroke="#d2d2d2" stroke-width="1.1"/>
<line x1="367.16" x2="498.46" y1="1052.88" y2="1052.88" stroke="#d2d2d2" stroke-width="1.1"/>
<line x1="367.16" x2="498.46" y1="1005.76" y2="1005.76" stroke="#d2d2d2" stroke-width="1.1"/>
<line x1="367.16" x2="498.46" y1="958.64" y2="958.64" stroke="#d2d2d2" stroke-width="1.1"/>
<line x1="367.16" x2="498.46" y1="911.52" y2="911.52" stroke="#d2d2d2" stroke-width="1.1"/>
<line x1="367.16" x2="367.16" y1="882.20" y2="1110.30" stroke="#d2d2d2" stroke-width="1.25"/>
<line x1="367.16" x2="498.46" y1="1110.30" y2="1110.30" stroke="#d2d2d2" stroke-width="1.25"/>
<line x1="399.98" x2="399.98" y1="1100.00" y2="1100.00" stroke="#3f3f3f" stroke-width="1.9"/>
<line x1="399.98" x2="399.98" y1="1064.66" y2="1017.54" stroke="#3f3f3f" stroke-width="1.9"/>
<line x1="386.85" x2="413.11" y1="1100.00" y2="1100.00" stroke="#3f3f3f" stroke-width="1.9" stroke-linecap="round"/>
<line x1="386.85" x2="413.11" y1="1017.54" y2="1017.54" stroke="#3f3f3f" stroke-width="1.9" stroke-linecap="round"/>
<rect x="373.72" y="1064.66" width="52.52" height="35.34" fill="#3274a1" stroke="#3f3f3f" stroke-width="1.9"/>
<line x1="373.72" x2="426.24" y1="1076.44" y2="1076.44" stroke="#3f3f3f" stroke-width="1.9"/>
<path d="M399.98 918.00L403.28 923.30L399.98 928.60L396.68 923.30Z" fill="#3f3f3f"/>
<path d="M399.98 976.90L403.28 982.20L399.98 987.50L396.68 982.20Z" fill="#3f3f3f"/>
<path d="M399.98 988.68L403.28 993.98L399.98 999.28L396.68 993.98Z" fill="#3f3f3f"/>
<path d="M399.98 1000.46L403.28 1005.76L399.98 1011.06L396.68 1005.76Z" fill="#3f3f3f"/>
<line x1="465.63" x2="465.63" y1="1100.00" y2="1100.00" stroke="#3f3f3f" stroke-width="1.9"/>
<line x1="465.63" x2="465.63" y1="1076.44" y2="1041.10" stroke="#3f3f3f" stroke-width="1.9"/>
<line x1="452.50" x2="478.76" y1="1100.00" y2="1100.00" stroke="#3f3f3f" stroke-width="1.9" stroke-linecap="round"/>
<line x1="452.50" x2="478.76" y1="1041.10" y2="1041.10" stroke="#3f3f3f" stroke-width="1.9" stroke-linecap="round"/>
<rect x="439.38" y="1076.44" width="52.52" height="23.56" fill="#e1812c" stroke="#3f3f3f" stroke-width="1.9"/>
<line x1="439.38" x2="491.89" y1="1088.22" y2="1088.22" stroke="#3f3f3f" stroke-width="1.9"/>
<path d="M465.63 988.68L468.94 993.98L465.63 999.28L462.33 993.98Z" fill="#3f3f3f"/>
<path d="M465.63 1012.24L468.94 1017.54L465.63 1022.84L462.33 1017.54Z" fill="#3f3f3f"/>
<line x1="517.39" x2="648.69" y1="1100.00" y2="1100.00" stroke="#d2d2d2" stroke-width="1.1"/>
<line x1="517.39" x2="648.69" y1="1052.88" y2="1052.88" stroke="#d2d2d2" stroke-width="1.1"/>
<line x1="517.39" x2="648.69" y1="1005.76" y2="1005.76" stroke="#d2d2d2" stroke-width="1.1"/>
<line x1="517.39" x2="648.69" y1="958.64" y2="958.64" stroke="#d2d2d2" stroke-width="1.1"/>
<line x1="517.39" x2="648.69" y1="911.52" y2="911.52" stroke="#d2d2d2" stroke-width="1.1"/>
<line x1="517.39" x2="517.39" y1="882.20" y2="1110.30" stroke="#d2d2d2" stroke-width="1.25"/>
<line x1="517.39" x2="648.69" y1="1110.30" y2="1110.30" stroke="#d2d2d2" stroke-width="1.25"/>
<line x1="550.22" x2="550.22" y1="1088.22" y2="1100.00" stroke="#3f3f3f" stroke-width="1.9"/>
<line x1="550.22" x2="550.22" y1="1041.10" y2="993.98" stroke="#3f3f3f" stroke-width="1.9"/>
<line x1="537.09" x2="563.35" y1="1100.00" y2="1100.00" stroke="#3f3f3f" stroke-width="1.9" stroke-linecap="round"/>
<line x1="537.09" x2="563.35" y1="993.98" y2="993.98" stroke="#3f3f3f" stroke-width="1.9" stroke-linecap="round"/>
<rect x="523.96" y="1041.10" width="52.52" height="47.12" fill="#3274a1" stroke="#3f3f3f" stroke-width="1.9"/>
<line x1="523.96" x2="576.48" y1="1076.44" y2="1076.44" stroke="#3f3f3f" stroke-width="1.9"/>
<line x1="615.87" x2="615.87" y1="1088.22" y2="1100.00" stroke="#3f3f3f" stroke-width="1.9"/>
<line x1="615.87" x2="615.87" y1="1041.10" y2="970.42" stroke="#3f3f3f" stroke-width="1.9"/>
<line x1="602.74" x2="629.00" y1="1100.00" y2="1100.00" stroke="#3f3f3f" stroke-width="1.9" stroke-linecap="round"/>
<line x1="602.74" x2="629.00" y1="970.42" y2="970.42" stroke="#3f3f3f" stroke-width="1.9" stroke-linecap="round"/>
<rect x="589.61" y="1041.10" width="52.52" height="47.12" fill="#e1812c" stroke="#3f3f3f" stroke-width="1.9"/>
<line x1="589.61" x2="642.12" y1="1064.66" y2="1064.66" stroke="#3f3f3f" stroke-width="1.9"/>
<text transform="translate(0.9,22.9) scale(0.93,1.0)" font-size="38.6">a</text>
<text transform="translate(6.00,620.80)" font-size="38.6" text-anchor="start">b</text>
<text transform="translate(93.45,37.50) scale(1,0.975)" font-size="15.3" text-anchor="start">Pedagogy</text>
<text transform="translate(242.55,37.50) scale(1,0.975)" font-size="15.3" text-anchor="start">Psychology</text>
<text transform="translate(416.52,37.50) scale(1,0.975)" font-size="15.3" text-anchor="start">C&amp;B</text>
<text transform="translate(551.45,37.50) scale(1,0.975)" font-size="15.3" text-anchor="start">P&amp;M&amp;IT</text>
<text transform="translate(98.45,630.50) scale(1,0.975)" font-size="15.3" text-anchor="start">Pedagogy</text>
<text transform="translate(248.00,630.50) scale(1,0.975)" font-size="15.3" text-anchor="start">Psychology</text>
<text transform="translate(421.62,630.50) scale(1,0.975)" font-size="15.3" text-anchor="start">C&amp;B</text>
<text transform="translate(556.55,630.50) scale(1,0.975)" font-size="15.3" text-anchor="start">P&amp;M&amp;IT</text>
<text transform="translate(665.20,85.44) rotate(90)" font-size="18.2" text-anchor="start">Questions = Myths</text>
<text transform="translate(665.20,330.04) rotate(90)" font-size="18.2" text-anchor="start">Questions = Facts</text>
<text transform="translate(668.50,679.04) rotate(90)" font-size="18.2" text-anchor="start">Questions = Myths</text>
<text transform="translate(668.50,931.94) rotate(90)" font-size="18.2" text-anchor="start">Questions = Facts</text>
<text transform="translate(22.25,186.65) rotate(-90) scale(1,1.045)" font-size="16.6" text-anchor="start">Correct</text>
<text transform="translate(22.35,430.45) rotate(-90) scale(1,1.045)" font-size="16.6" text-anchor="start">Correct</text>
<text transform="translate(20.65,800.09) rotate(-90) scale(1,0.985)" font-size="16.7" text-anchor="start">Unsure</text>
<text transform="translate(20.75,1009.89) rotate(-90) scale(1,0.985)" font-size="16.7" text-anchor="start">Unsure</text>
<text transform="translate(55.70,272.20) scale(1,1.025)" font-size="15.2" text-anchor="end">0.0</text>
<text transform="translate(55.70,230.68) scale(1,1.025)" font-size="15.2" text-anchor="end">0.2</text>
<text transform="translate(55.70,189.16) scale(1,1.025)" font-size="15.2" text-anchor="end">0.4</text>
<text transform="translate(55.70,147.64) scale(1,1.025)" font-size="15.2" text-anchor="end">0.6</text>
<text transform="translate(55.70,106.12) scale(1,1.025)" font-size="15.2" text-anchor="end">0.8</text>
<path transform="translate(34.57,64.60) scale(0.00742,-0.00761)" d="M696 0L515 0L515 1237L197 1010L197 1180L530 1409L696 1409Z" fill="#262626"/>
<text transform="translate(43.02,64.60) scale(1,1.025)" font-size="15.2" text-anchor="start">.0</text>
<text transform="translate(55.70,518.30) scale(1,1.025)" font-size="15.2" text-anchor="end">0.0</text>
<text transform="translate(55.70,476.84) scale(1,1.025)" font-size="15.2" text-anchor="end">0.2</text>
<text transform="translate(55.70,435.38) scale(1,1.025)" font-size="15.2" text-anchor="end">0.4</text>
<text transform="translate(55.70,393.92) scale(1,1.025)" font-size="15.2" text-anchor="end">0.6</text>
<text transform="translate(55.70,352.46) scale(1,1.025)" font-size="15.2" text-anchor="end">0.8</text>
<path transform="translate(34.57,311.00) scale(0.00742,-0.00761)" d="M696 0L515 0L515 1237L197 1010L197 1180L530 1409L696 1409Z" fill="#262626"/>
<text transform="translate(43.02,311.00) scale(1,1.025)" font-size="15.2" text-anchor="start">.0</text>
<text transform="translate(55.70,687.20) scale(1,1.025)" font-size="15.6" text-anchor="end">0.8</text>
<text transform="translate(55.70,728.12) scale(1,1.025)" font-size="15.6" text-anchor="end">0.6</text>
<text transform="translate(55.70,769.04) scale(1,1.025)" font-size="15.6" text-anchor="end">0.4</text>
<text transform="translate(55.70,809.96) scale(1,1.025)" font-size="15.6" text-anchor="end">0.2</text>
<text transform="translate(55.70,850.88) scale(1,1.025)" font-size="15.6" text-anchor="end">0.0</text>
<text transform="translate(55.70,901.20) scale(1,1.025)" font-size="15.6" text-anchor="end">0.8</text>
<text transform="translate(55.70,942.12) scale(1,1.025)" font-size="15.6" text-anchor="end">0.6</text>
<text transform="translate(55.70,983.04) scale(1,1.025)" font-size="15.6" text-anchor="end">0.4</text>
<text transform="translate(55.70,1023.96) scale(1,1.025)" font-size="15.6" text-anchor="end">0.2</text>
<text transform="translate(55.70,1064.88) scale(1,1.025)" font-size="15.6" text-anchor="end">0.0</text>
<text transform="translate(72.30,538.30) scale(1,1.025)" font-size="14.0" text-anchor="start">Female</text>
<text transform="translate(223.90,538.30) scale(1,1.025)" font-size="14.0" text-anchor="start">Female</text>
<text transform="translate(373.40,538.30) scale(1,1.025)" font-size="14.0" text-anchor="start">Female</text>
<text transform="translate(527.10,538.30) scale(1,1.025)" font-size="14.0" text-anchor="start">Female</text>
<text transform="translate(149.10,538.30) scale(1,1.025)" font-size="14.0" text-anchor="start">Male</text>
<text transform="translate(298.60,538.30) scale(1,1.025)" font-size="14.0" text-anchor="start">Male</text>
<text transform="translate(448.10,538.30) scale(1,1.025)" font-size="14.0" text-anchor="start">Male</text>
<text transform="translate(599.70,538.30) scale(1,1.025)" font-size="14.0" text-anchor="start">Male</text>
<text transform="translate(73.90,1129.60) scale(1,1.025)" font-size="14.0" text-anchor="start">Female</text>
<text transform="translate(225.50,1129.60) scale(1,1.025)" font-size="14.0" text-anchor="start">Female</text>
<text transform="translate(377.10,1129.60) scale(1,1.025)" font-size="14.0" text-anchor="start">Female</text>
<text transform="translate(528.70,1129.60) scale(1,1.025)" font-size="14.0" text-anchor="start">Female</text>
<text transform="translate(151.00,1129.60) scale(1,1.025)" font-size="14.0" text-anchor="start">Male</text>
<text transform="translate(300.20,1129.60) scale(1,1.025)" font-size="14.0" text-anchor="start">Male</text>
<text transform="translate(449.70,1129.60) scale(1,1.025)" font-size="14.0" text-anchor="start">Male</text>
<text transform="translate(601.40,1129.60) scale(1,1.025)" font-size="14.0" text-anchor="start">Male</text>
<text transform="translate(103.19,561.00) scale(1,1.025)" font-size="15.2" text-anchor="start">Gender</text>
<text transform="translate(256.79,561.00) scale(1,1.025)" font-size="15.2" text-anchor="start">Gender</text>
<text transform="translate(408.39,561.00) scale(1,1.025)" font-size="15.2" text-anchor="start">Gender</text>
<text transform="translate(559.99,561.00) scale(1,1.025)" font-size="15.2" text-anchor="start">Gender</text>
<text transform="translate(96.49,1151.80) scale(1,1.025)" font-size="15.2" text-anchor="start">Gender</text>
<text transform="translate(249.69,1151.80) scale(1,1.025)" font-size="15.2" text-anchor="start">Gender</text>
<text transform="translate(401.59,1151.80) scale(1,1.025)" font-size="15.2" text-anchor="start">Gender</text>
<text transform="translate(553.29,1151.80) scale(1,1.025)" font-size="15.2" text-anchor="start">Gender</text>
</svg>
</body></html>
